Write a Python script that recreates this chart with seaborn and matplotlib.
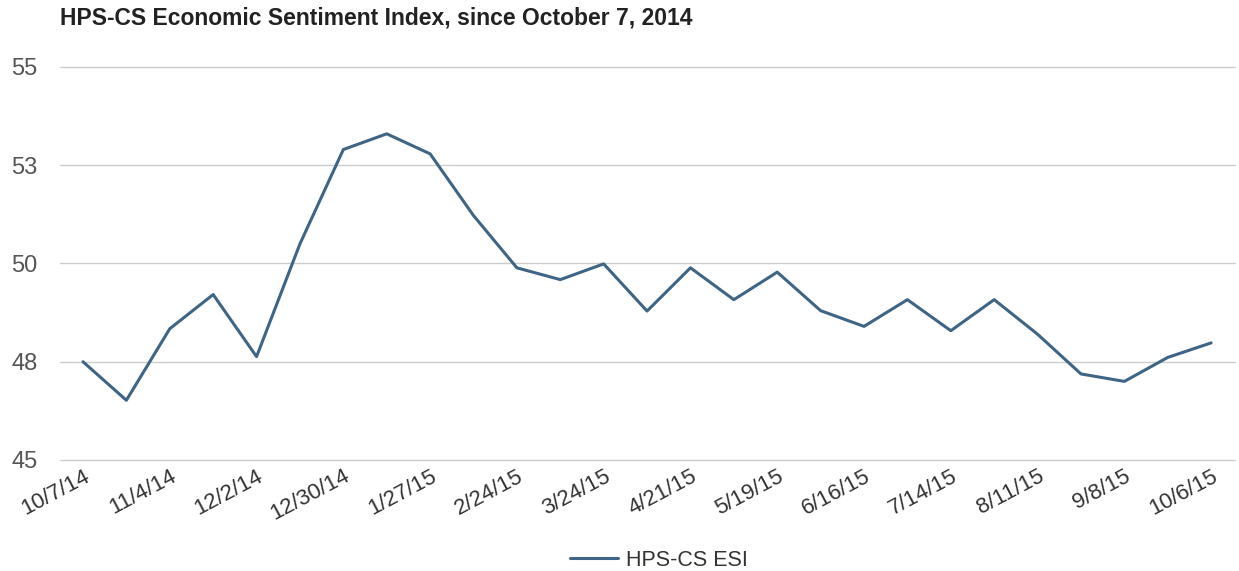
import matplotlib
matplotlib.use("Agg")
import matplotlib.pyplot as plt
import seaborn as sns
import pandas as pd
import numpy as np

dates = ["10/7/14", "10/21/14", "11/4/14", "11/18/14", "12/2/14", "12/16/14",
         "12/30/14", "1/13/15", "1/27/15", "2/10/15", "2/24/15", "3/10/15",
         "3/24/15", "4/7/15", "4/21/15", "5/5/15", "5/19/15", "6/2/15",
         "6/16/15", "6/30/15", "7/14/15", "7/28/15", "8/11/15", "8/25/15",
         "9/8/15", "9/22/15", "10/6/15"]
esi = [47.50, 46.52, 48.34, 49.21, 47.63, 50.50, 52.90, 53.30, 52.79, 51.22,
       49.89, 49.59, 49.99, 48.79, 49.89, 49.08, 49.78, 48.80, 48.40, 49.08,
       48.29, 49.08, 48.20, 47.19, 47.00, 47.61, 47.98]
y_ticks = [45, 47.5, 50, 52.5, 55]
y_tick_labels = ["45", "48", "50", "53", "55"]
series_name = "HPS-CS ESI"
title = "HPS-CS Economic Sentiment Index, since October 7, 2014"

df = pd.DataFrame({"idx": np.arange(len(dates)), "value": esi, "series": series_name})

sns.set_theme(style="white")
plt.rcParams["font.family"] = ["Liberation Sans", "DejaVu Sans"]

fig = plt.figure(figsize=(12.39, 5.71), dpi=100)
ax = fig.add_axes([60 / 1239, 1 - 460 / 571, (1235 - 60) / 1239, (460 - 67) / 571])

line_color = "#3e6585"
sns.lineplot(data=df, x="idx", y="value", hue="series", palette=[line_color],
             linewidth=2.2, ax=ax, legend=True)

ax.set_ylim(45, 55)
ax.set_xlim(-0.53, len(dates) - 1 + 0.55)
ax.set_yticks(y_ticks)
ax.set_yticklabels(y_tick_labels)
ax.yaxis.grid(True, color="#cccccc", linewidth=1)
for gl in ax.get_ygridlines():
    gl.set_clip_on(False)
ax.xaxis.grid(False)
ax.set_axisbelow(True)
for s in ax.spines.values():
    s.set_visible(False)
ax.tick_params(axis="both", length=0)
ax.tick_params(axis="y", pad=16, labelsize=17, labelcolor="#555555")
ax.set_xticks(np.arange(0, len(dates), 2))
ax.set_xticklabels(dates[::2], rotation=28, ha="right", rotation_mode="anchor",
                   fontsize=16, color="#333333")
ax.tick_params(axis="x", pad=4)
ax.set_xlabel("")
ax.set_ylabel("")

leg = ax.legend(loc="center", bbox_to_anchor=(0.51, -0.255), frameon=False,
                fontsize=15.5, handlelength=2.2, handletextpad=0.4)
for t in leg.get_texts():
    t.set_color("#333333")

fig.text(60 / 1239, 1 - 18 / 571, title, fontsize=16.5, fontweight="bold",
         color="#222222", va="center", ha="left")

fig.savefig("out.png", dpi=100, facecolor="white")
